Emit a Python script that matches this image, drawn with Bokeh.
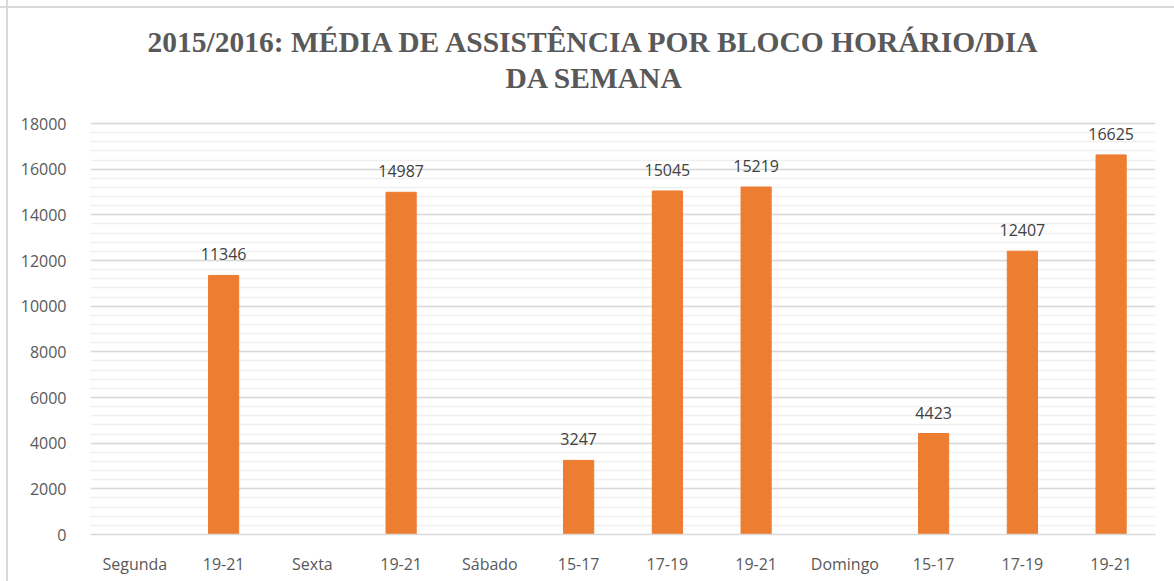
from bokeh.plotting import figure
from bokeh.models import ColumnDataSource, Range1d, FixedTicker, LabelSet, Title
from bokeh.core.properties import value
from bokeh.embed import file_html
from bokeh.resources import INLINE

categories = ["Segunda", "19-21", "Sexta", "19-21", "Sábado", "15-17", "17-19",
              "19-21", "Domingo", "15-17", "17-19", "19-21"]
values = [0, 11346, 0, 14987, 0, 3247, 15045, 15219, 0, 4423, 12407, 16625]
y_ticks = [0, 2000, 4000, 6000, 8000, 10000, 12000, 14000, 16000, 18000]
title_line1 = "2015/2016: MÉDIA DE ASSISTÊNCIA POR BLOCO HORÁRIO/DIA"
title_line2 = "DA SEMANA"

xs = [i + 0.5 for i in range(len(categories))]
bar_vals = [v if v > 0 else float("nan") for v in values]
labels = [str(v) if v > 0 else "" for v in values]
src = ColumnDataSource(dict(x=xs, top=bar_vals, lab=labels, y=values))

# frame spans page y 95..534; 18000 sits at y=123
y_top = 18000 * (534 - 95) / (534 - 123)

p = figure(width=1174, height=581, output_backend="svg", toolbar_location=None,
           x_range=Range1d(0, len(categories)), y_range=Range1d(0, y_top),
           min_border_left=90, min_border_right=19, min_border_top=95,
           min_border_bottom=47)
p.border_fill_color = None
p.background_fill_color = "white"
p.styles = {
    "background-color": "white",
    "background-repeat": "no-repeat",
    "background-image": ("linear-gradient(to right, transparent 6px, #d9d9d9 6px, "
                         "#d9d9d9 8px, transparent 8px), "
                         "linear-gradient(to bottom, transparent 6px, #d9d9d9 6px, "
                         "#d9d9d9 8px, transparent 8px)"),
}

def style_title(t):
    t.text_font = "Liberation Serif"
    t.text_font_style = "bold"
    t.text_font_size = "29.5px"
    t.text_color = "#595959"
    t.align = "left"

p.title.text = title_line1
style_title(p.title)
p.title.standoff = 0
p.title.offset = 57
t2 = Title(text=title_line2)
style_title(t2)
t2.standoff = 4
t2.offset = 415
p.add_layout(t2, "above")

p.vbar(x="x", top="top", width=0.34, source=src, color="#ED7D31")

p.add_layout(LabelSet(x="x", y="y", text="lab", source=src, text_align="center",
                      text_baseline="alphabetic", y_offset=15,
                      text_font=value("Open Sans"), text_font_size=value("16px"),
                      text_color=value("#404040")))

p.xaxis.ticker = FixedTicker(ticks=xs)
p.xaxis.major_label_overrides = {x: c for x, c in zip(xs, categories)}
p.yaxis.ticker = FixedTicker(ticks=y_ticks, minor_ticks=list(range(0, 18001, 400)))
p.ygrid.minor_grid_line_color = "#f0f0f0"
p.ygrid.minor_grid_line_width = 1.5
p.ygrid.grid_line_color = "#d9d9d9"
p.ygrid.grid_line_width = 1.5
p.xgrid.grid_line_color = None

for ax in (p.xaxis, p.yaxis):
    ax.major_tick_line_color = None
    ax.minor_tick_line_color = None
    ax.major_label_text_font = "Open Sans"
    ax.major_label_text_font_size = "16px"
    ax.major_label_text_color = "#595959"
p.xaxis.axis_line_color = "#d9d9d9"
p.xaxis.axis_line_width = 1.5
p.yaxis.axis_line_color = None
p.yaxis.major_label_standoff = 18
p.xaxis.major_label_standoff = 12
p.outline_line_color = None

open("out.html", "w").write(file_html(p, INLINE))
